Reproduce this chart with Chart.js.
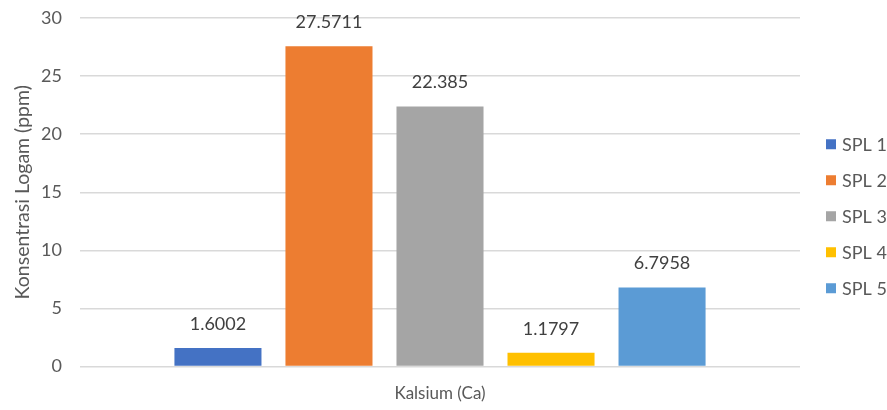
<!DOCTYPE html>
<html>
<head>
<meta charset="utf-8">
<script src="https://cdn.jsdelivr.net/npm/chart.js@4/dist/chart.umd.min.js"></script>
<style>
  html, body { margin: 0; padding: 0; background: #ffffff; }
  #wrap { width: 887px; height: 410px; }
</style>
</head>
<body>
<div id="wrap"><canvas id="c" width="887" height="410"></canvas></div>
<script>
// Calcium concentration per sampling point
const categories = ['Kalsium (Ca)'];
const seriesNames = ['SPL 1', 'SPL 2', 'SPL 3', 'SPL 4', 'SPL 5'];
const seriesValues = [1.6002, 27.5711, 22.385, 1.1797, 6.7958];
const seriesColors = ['#4472C4', '#ED7D31', '#A5A5A5', '#FFC000', '#5B9BD5'];
const yTicks = [0, 5, 10, 15, 20, 25, 30];

const FONT = 'Lato, "Open Sans", "Liberation Sans", sans-serif';

// Value labels written above each bar
const valueLabels = {
  id: 'valueLabels',
  afterDatasetsDraw(chart) {
    const ctx = chart.ctx;
    ctx.save();
    ctx.font = '18px ' + FONT;
    ctx.fillStyle = '#404040';
    ctx.textAlign = 'center';
    ctx.textBaseline = 'middle';
    chart.data.datasets.forEach((ds, i) => {
      const meta = chart.getDatasetMeta(i);
      meta.data.forEach((bar, j) => {
        ctx.fillText(String(ds.data[j]), bar.x, bar.y - 24);
      });
    });
    ctx.restore();
  }
};

// Vertical legend to the right of the plot area
const sideLegend = {
  id: 'sideLegend',
  afterDraw(chart) {
    const ctx = chart.ctx;
    const area = chart.chartArea;
    const step = 36;
    const n = chart.data.datasets.length;
    const x = area.right + 26;
    const y0 = (area.top + area.bottom) / 2 + 24 - step * (n - 1) / 2;
    ctx.save();
    ctx.font = '18px ' + FONT;
    ctx.textAlign = 'left';
    ctx.textBaseline = 'middle';
    chart.data.datasets.forEach((ds, i) => {
      const y = y0 + i * step;
      ctx.fillStyle = ds.backgroundColor;
      ctx.fillRect(x, y - 5, 10, 10);
      ctx.fillStyle = '#595959';
      ctx.fillText(ds.label, x + 16, y + 1);
    });
    ctx.restore();
  }
};

new Chart(document.getElementById('c'), {
  type: 'bar',
  data: {
    labels: categories,
    datasets: seriesNames.map((name, i) => ({
      label: name,
      data: [seriesValues[i]],
      backgroundColor: seriesColors[i],
      borderWidth: 0,
      categoryPercentage: 0.771,
      barPercentage: 0.784
    }))
  },
  options: {
    responsive: false,
    animation: false,
    devicePixelRatio: 1,
    layout: { padding: { left: 8, right: 87, top: 18, bottom: 0 } },
    plugins: {
      legend: { display: false },
      tooltip: { enabled: false }
    },
    scales: {
      x: {
        afterFit(axis) { axis.height = 43.5; },
        grid: { display: false, drawTicks: false },
        border: { display: false },
        ticks: { color: '#595959', font: { family: FONT, size: 17 }, padding: 17 }
      },
      y: {
        min: 0,
        max: 30,
        afterBuildTicks(axis) { axis.ticks = yTicks.map(v => ({ value: v })); },
        afterFit(axis) {
          axis.width = 72;
          axis.paddingTop = 0;
          axis.paddingBottom = 0;
        },
        grid: { color: '#D9D9D9', lineWidth: 1.5, drawTicks: false },
        border: { display: false },
        ticks: { color: '#595959', font: { family: FONT, size: 18 }, padding: 18 },
        title: {
          display: true,
          text: 'Konsentrasi Logam (ppm)',
          color: '#595959',
          font: { family: FONT, size: 19.5 },
          padding: { top: 3, bottom: 0 }
        }
      }
    }
  },
  plugins: [valueLabels, sideLegend]
});
</script>
</body>
</html>
